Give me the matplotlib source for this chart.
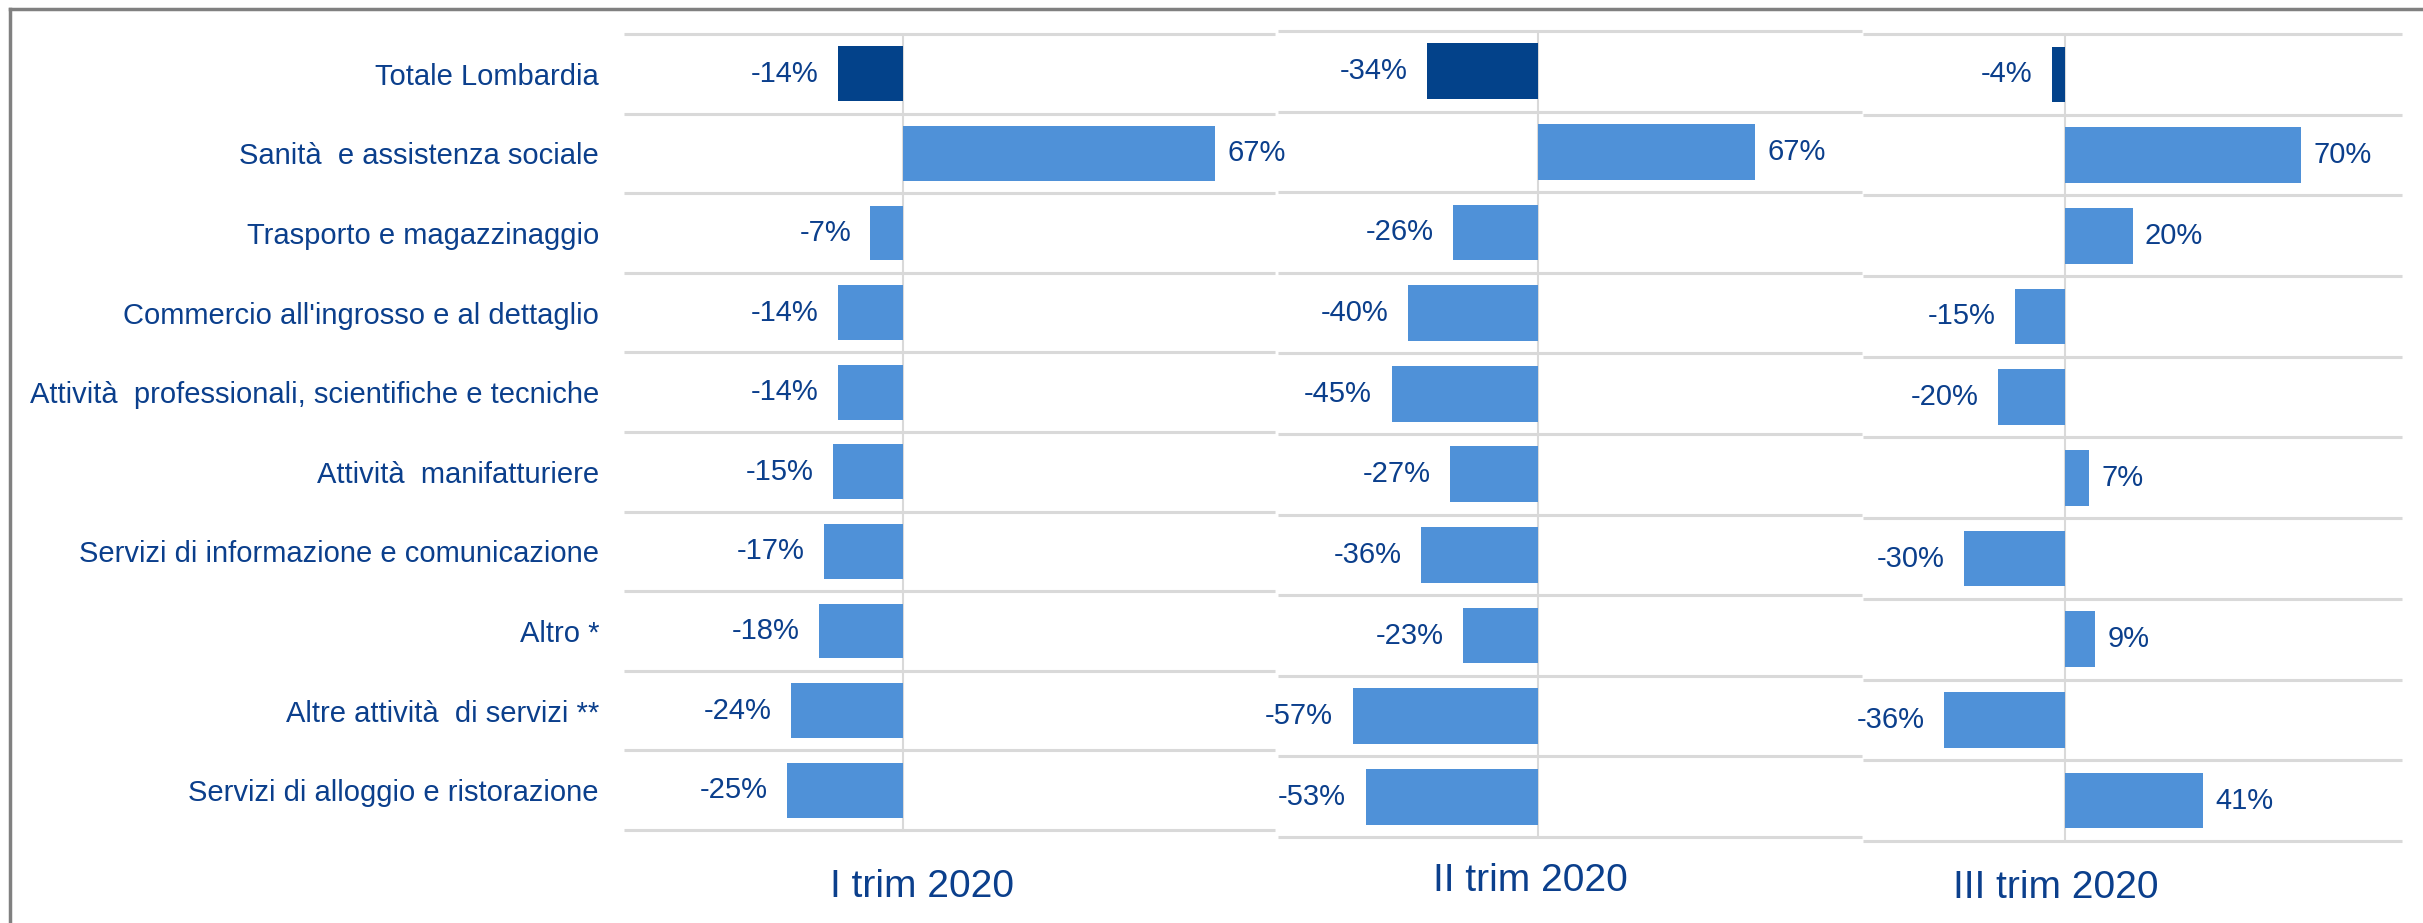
import matplotlib.pyplot as plt
import numpy as np

# categories (top to bottom)
categories = [
    "Totale Lombardia",
    "Sanità  e assistenza sociale",
    "Trasporto e magazzinaggio",
    "Commercio all'ingrosso e al dettaglio",
    "Attività  professionali, scientifiche e tecniche",
    "Attività  manifatturiere",
    "Servizi di informazione e comunicazione",
    "Altro *",
    "Altre attività  di servizi **",
    "Servizi di alloggio e ristorazione",
]

# % change per quarter
q1_values = [-14, 67, -7, -14, -14, -15, -17, -18, -24, -25]
q2_values = [-34, 67, -26, -40, -45, -27, -36, -23, -57, -53]
q3_values = [-4, 70, 20, -15, -20, 7, -30, 9, -36, 41]

panel_titles = ["I trim 2020", "II trim 2020", "III trim 2020"]

TEXT = "#0b3f8c"
DARK = "#03428a"
LIGHT = "#4f91d8"
GRID = "#d9d9d9"

plt.rcParams['font.family'] = ['Liberation Sans', 'DejaVu Sans']

W, H = 2423, 923
fig = plt.figure(figsize=(W / 100, H / 100), dpi=100)

# axes boxes in pixels: left, top, right, bottom
boxes = [(624, 34, 1275, 830), (1278, 31, 1862, 837), (1863, 34, 2402, 841)]
xlims = [(-60, 80), (-80, 100), (-60, 100)]
title_pos = [(922, 887), (1530, 881), (2056, 888)]
series = [q1_values, q2_values, q3_values]

y = np.arange(len(categories))
colors = [DARK] + [LIGHT] * (len(categories) - 1)

for k, (vals, box, xl) in enumerate(zip(series, boxes, xlims)):
    l, t, r, b = box
    ax = fig.add_axes([l / W, 1 - b / H, (r - l) / W, (b - t) / H])
    ax.patch.set_alpha(0)
    ax.barh(y, vals, height=0.69, color=colors, zorder=3)
    ax.set_xlim(*xl)
    ax.set_ylim(len(categories) - 0.5, -0.5)
    ax.axvline(0, color=GRID, lw=1.5, zorder=2)
    ax.hlines(np.arange(len(categories) + 1) - 0.5, 0, 1, transform=ax.get_yaxis_transform(),
              color=GRID, lw=2.2, clip_on=False, zorder=1)
    for s in ax.spines.values():
        s.set_visible(False)
    ax.set_xticks([])
    ax.tick_params(axis='y', length=0, pad=18, labelsize=21, labelcolor=TEXT)
    if k == 0:
        ax.set_yticks(y)
        ax.set_yticklabels(categories)
    else:
        ax.set_yticks([])
    # value labels
    for i, v in enumerate(vals):
        off = 9 if v >= 0 else -14
        ax.annotate(f"{v}%", (v, i), xytext=(off, 0), textcoords='offset points',
                    ha='left' if v >= 0 else 'right', va='center', fontsize=21,
                    color=TEXT, annotation_clip=False)

for txt, (px, py) in zip(panel_titles, title_pos):
    fig.text(px / W, 1 - py / H, txt, ha='center', va='center', fontsize=28, color=TEXT)

# outer frame (left and top edges visible)
fig.add_artist(plt.Line2D([10 / W, 10 / W], [0, 1 - 9 / H], color="#808080", lw=2.5))
fig.add_artist(plt.Line2D([10 / W, 1], [1 - 9 / H, 1 - 9 / H], color="#808080", lw=2.5))

fig.savefig("out.png", dpi=100)
